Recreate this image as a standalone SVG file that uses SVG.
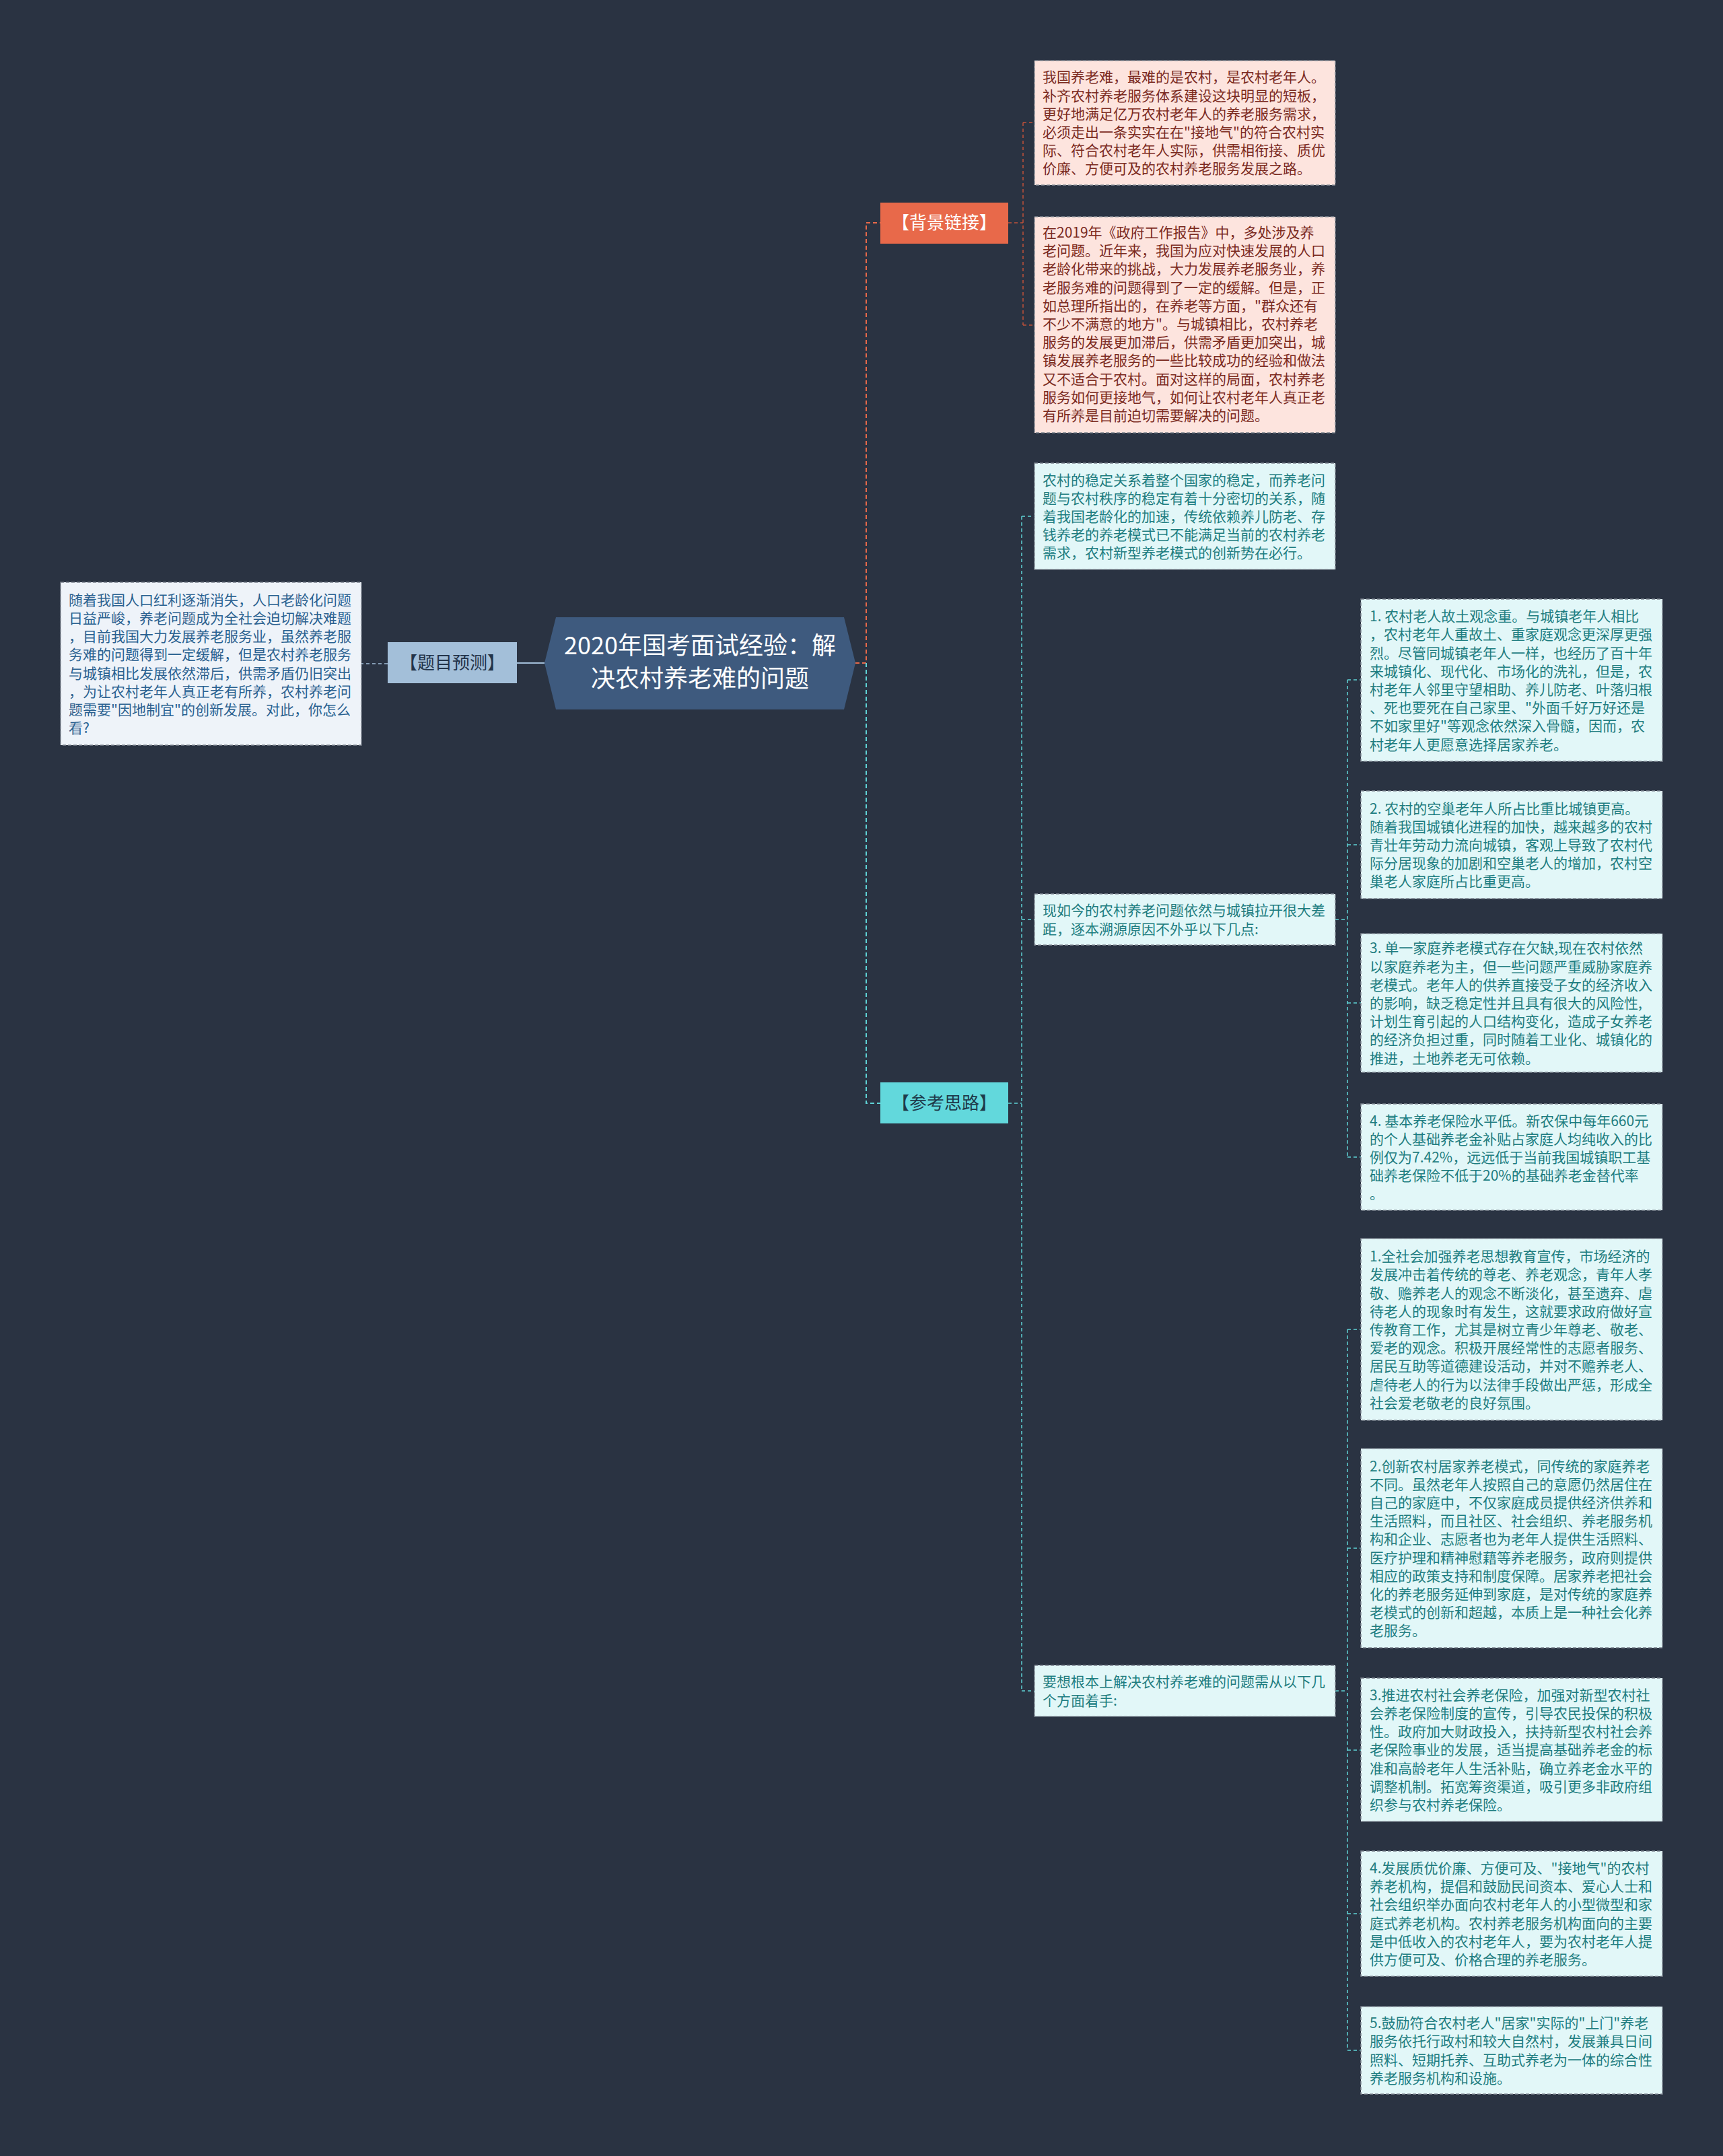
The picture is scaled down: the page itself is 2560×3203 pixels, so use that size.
<svg xmlns="http://www.w3.org/2000/svg" width="2560" height="3203" viewBox="0 0 2560 3203">
<style>
text{font-family:"Noto Sans CJK SC","Noto Sans",sans-serif;}
.box{stroke:#7d8590;stroke-width:1.5;stroke-dasharray:5 3;}
.pink{fill:#fde4de;}
.cyan{fill:#e2f7f8;}
.grey{fill:#eef3f9;}
.tp{font-size:21px;fill:#7b2a1e;}
.tc{font-size:21px;fill:#1e7d80;}
.tg{font-size:21px;fill:#2a6190;}
.lab{font-size:26px;text-anchor:middle;}
.c-or{fill:none;stroke:#e8694a;stroke-width:2;stroke-dasharray:6 4;}
.c-or2{fill:none;stroke:#c0513a;stroke-width:1.5;stroke-dasharray:5 4;}
.c-cy{fill:none;stroke:#5fd3d6;stroke-width:2;stroke-dasharray:6 4;}
.c-cy2{fill:none;stroke:#5fd3d6;stroke-width:1.5;stroke-dasharray:5 4;}
.c-bl{fill:none;stroke:#a3bfd9;stroke-width:2;}
.c-bl2{fill:none;stroke:#a3bfd9;stroke-width:1.5;stroke-dasharray:5 4;}
</style>
<rect x="0" y="0" width="2560" height="3203" fill="#2a3342"/>
<g id="connectors">
<path class="c-bl" d="M809 985 H768"/>
<path class="c-bl2" d="M576 986 H537"/>
<path class="c-or" d="M1271 985 H1287 V331 H1308"/>
<path class="c-cy" d="M1287 985 V1639 H1308"/>
<path class="c-or2" d="M1498 331 H1520 M1520 182 V483 M1520 182 H1537 M1520 483 H1537"/>
<path class="c-cy2" d="M1498 1639 H1518 M1518 767 V2512 M1518 767 H1537 M1518 1366 H1537 M1518 2512 H1537"/>
<path class="c-cy2" d="M1984 1366 H2002 M2002 1010 V1719 M2002 1010 H2022 M2002 1255 H2022 M2002 1490 H2022 M2002 1719 H2022"/>
<path class="c-cy2" d="M1984 2512 H2002 M2002 1975 V3046 M2002 1975 H2022 M2002 2300 H2022 M2002 2600 H2022 M2002 2843 H2022 M2002 3046 H2022"/>
</g>
<g id="center">
<polygon points="826,917 1254,917 1271,985 1254,1054 826,1054 809,985" fill="#3e5a7e"/>
<text x="1040" y="972" font-size="36" fill="#ffffff" text-anchor="middle">2020年国考面试经验：解</text>
<text x="1040" y="1021" font-size="36" fill="#ffffff" text-anchor="middle">决农村养老难的问题</text>
</g>
<g id="timu">
<rect x="576" y="954" width="192" height="61" fill="#a3bfd9"/>
<text class="lab" x="672" y="994" fill="#23344a">【题目预测】</text>
</g>
<g id="timu-text">
<rect class="box grey" x="90" y="865" width="447" height="242"/>
<text class="tg">
<tspan x="102" y="898.7">随着我国人口红利逐渐消失，人口老龄化问题</tspan>
<tspan x="102" y="925.9">日益严峻，养老问题成为全社会迫切解决难题</tspan>
<tspan x="102" y="953.1">，目前我国大力发展养老服务业，虽然养老服</tspan>
<tspan x="102" y="980.3">务难的问题得到一定缓解，但是农村养老服务</tspan>
<tspan x="102" y="1007.5">与城镇相比发展依然滞后，供需矛盾仍旧突出</tspan>
<tspan x="102" y="1034.7">，为让农村老年人真正老有所养，农村养老问</tspan>
<tspan x="102" y="1061.9">题需要"因地制宜"的创新发展。对此，你怎么</tspan>
<tspan x="102" y="1089.1">看?</tspan>
</text>
</g>
<g id="beijing">
<rect x="1308" y="301" width="190" height="61" fill="#e8694a"/>
<text class="lab" x="1403" y="340" fill="#ffffff">【背景链接】</text>
</g>
<g id="bj1">
<rect class="box pink" x="1537" y="90" width="447" height="185"/>
<text class="tp">
<tspan x="1549" y="122.4">我国养老难，最难的是农村，是农村老年人。</tspan>
<tspan x="1549" y="149.6">补齐农村养老服务体系建设这块明显的短板，</tspan>
<tspan x="1549" y="176.8">更好地满足亿万农村老年人的养老服务需求，</tspan>
<tspan x="1549" y="204">必须走出一条实实在在"接地气"的符合农村实</tspan>
<tspan x="1549" y="231.2">际、符合农村老年人实际，供需相衔接、质优</tspan>
<tspan x="1549" y="258.4">价廉、方便可及的农村养老服务发展之路。</tspan>
</text>
</g>
<g id="bj2">
<rect class="box pink" x="1537" y="322" width="447" height="321"/>
<text class="tp">
<tspan x="1549" y="353">在2019年《政府工作报告》中，多处涉及养</tspan>
<tspan x="1549" y="380.2">老问题。近年来，我国为应对快速发展的人口</tspan>
<tspan x="1549" y="407.4">老龄化带来的挑战，大力发展养老服务业，养</tspan>
<tspan x="1549" y="434.6">老服务难的问题得到了一定的缓解。但是，正</tspan>
<tspan x="1549" y="461.8">如总理所指出的，在养老等方面，"群众还有</tspan>
<tspan x="1549" y="489">不少不满意的地方"。与城镇相比，农村养老</tspan>
<tspan x="1549" y="516.2">服务的发展更加滞后，供需矛盾更加突出，城</tspan>
<tspan x="1549" y="543.4">镇发展养老服务的一些比较成功的经验和做法</tspan>
<tspan x="1549" y="570.6">又不适合于农村。面对这样的局面，农村养老</tspan>
<tspan x="1549" y="597.8">服务如何更接地气，如何让农村老年人真正老</tspan>
<tspan x="1549" y="625">有所养是目前迫切需要解决的问题。</tspan>
</text>
</g>
<g id="cankao">
<rect x="1308" y="1608" width="190" height="61" fill="#62d8dc"/>
<text class="lab" x="1403" y="1648" fill="#1e3a4a">【参考思路】</text>
</g>
<g id="ck1">
<rect class="box cyan" x="1537" y="688" width="447" height="158"/>
<text class="tc">
<tspan x="1549" y="720.5">农村的稳定关系着整个国家的稳定，而养老问</tspan>
<tspan x="1549" y="747.7">题与农村秩序的稳定有着十分密切的关系，随</tspan>
<tspan x="1549" y="774.9">着我国老龄化的加速，传统依赖养儿防老、存</tspan>
<tspan x="1549" y="802.1">钱养老的养老模式已不能满足当前的农村养老</tspan>
<tspan x="1549" y="829.3">需求，农村新型养老模式的创新势在必行。</tspan>
</text>
</g>
<g id="ck2">
<rect class="box cyan" x="1537" y="1328" width="447" height="76"/>
<text class="tc">
<tspan x="1549" y="1360.3">现如今的农村养老问题依然与城镇拉开很大差</tspan>
<tspan x="1549" y="1387.5">距，逐本溯源原因不外乎以下几点:</tspan>
</text>
</g>
<g id="ck3">
<rect class="box cyan" x="1537" y="2474" width="447" height="76"/>
<text class="tc">
<tspan x="1549" y="2506.3">要想根本上解决农村养老难的问题需从以下几</tspan>
<tspan x="1549" y="2533.5">个方面着手:</tspan>
</text>
</g>
<g id="r1">
<rect class="box cyan" x="2022" y="890" width="448" height="241"/>
<text class="tc">
<tspan x="2035" y="923.2">1. 农村老人故土观念重。与城镇老年人相比</tspan>
<tspan x="2035" y="950.4">，农村老年人重故土、重家庭观念更深厚更强</tspan>
<tspan x="2035" y="977.6">烈。尽管同城镇老年人一样，也经历了百十年</tspan>
<tspan x="2035" y="1004.8">来城镇化、现代化、市场化的洗礼，但是，农</tspan>
<tspan x="2035" y="1032">村老年人邻里守望相助、养儿防老、叶落归根</tspan>
<tspan x="2035" y="1059.2">、死也要死在自己家里、"外面千好万好还是</tspan>
<tspan x="2035" y="1086.4">不如家里好"等观念依然深入骨髓，因而，农</tspan>
<tspan x="2035" y="1113.6">村老年人更愿意选择居家养老。</tspan>
</text>
</g>
<g id="r2">
<rect class="box cyan" x="2022" y="1175" width="448" height="160"/>
<text class="tc">
<tspan x="2035" y="1208.5">2. 农村的空巢老年人所占比重比城镇更高。</tspan>
<tspan x="2035" y="1235.7">随着我国城镇化进程的加快，越来越多的农村</tspan>
<tspan x="2035" y="1262.9">青壮年劳动力流向城镇，客观上导致了农村代</tspan>
<tspan x="2035" y="1290.1">际分居现象的加剧和空巢老人的增加，农村空</tspan>
<tspan x="2035" y="1317.3">巢老人家庭所占比重更高。</tspan>
</text>
</g>
<g id="r3">
<rect class="box cyan" x="2022" y="1387" width="448" height="206"/>
<text class="tc">
<tspan x="2035" y="1416.3">3. 单一家庭养老模式存在欠缺,现在农村依然</tspan>
<tspan x="2035" y="1443.5">以家庭养老为主，但一些问题严重威胁家庭养</tspan>
<tspan x="2035" y="1470.7">老模式。老年人的供养直接受子女的经济收入</tspan>
<tspan x="2035" y="1497.9">的影响，缺乏稳定性并且具有很大的风险性,</tspan>
<tspan x="2035" y="1525.1">计划生育引起的人口结构变化，造成子女养老</tspan>
<tspan x="2035" y="1552.3">的经济负担过重，同时随着工业化、城镇化的</tspan>
<tspan x="2035" y="1579.5">推进，土地养老无可依赖。</tspan>
</text>
</g>
<g id="r4">
<rect class="box cyan" x="2022" y="1640" width="448" height="158"/>
<text class="tc">
<tspan x="2035" y="1672.5">4. 基本养老保险水平低。新农保中每年660元</tspan>
<tspan x="2035" y="1699.7">的个人基础养老金补贴占家庭人均纯收入的比</tspan>
<tspan x="2035" y="1726.9">例仅为7.42%，远远低于当前我国城镇职工基</tspan>
<tspan x="2035" y="1754.1">础养老保险不低于20%的基础养老金替代率</tspan>
<tspan x="2035" y="1781.3">。</tspan>
</text>
</g>
<g id="s1">
<rect class="box cyan" x="2022" y="1840" width="448" height="270"/>
<text class="tc">
<tspan x="2035" y="1874.1">1.全社会加强养老思想教育宣传，市场经济的</tspan>
<tspan x="2035" y="1901.3">发展冲击着传统的尊老、养老观念，青年人孝</tspan>
<tspan x="2035" y="1928.5">敬、赡养老人的观念不断淡化，甚至遗弃、虐</tspan>
<tspan x="2035" y="1955.7">待老人的现象时有发生，这就要求政府做好宣</tspan>
<tspan x="2035" y="1982.9">传教育工作，尤其是树立青少年尊老、敬老、</tspan>
<tspan x="2035" y="2010.1">爱老的观念。积极开展经常性的志愿者服务、</tspan>
<tspan x="2035" y="2037.3">居民互助等道德建设活动，并对不赡养老人、</tspan>
<tspan x="2035" y="2064.5">虐待老人的行为以法律手段做出严惩，形成全</tspan>
<tspan x="2035" y="2091.7">社会爱老敬老的良好氛围。</tspan>
</text>
</g>
<g id="s2">
<rect class="box cyan" x="2022" y="2152" width="448" height="296"/>
<text class="tc">
<tspan x="2035" y="2185.5">2.创新农村居家养老模式，同传统的家庭养老</tspan>
<tspan x="2035" y="2212.7">不同。虽然老年人按照自己的意愿仍然居住在</tspan>
<tspan x="2035" y="2239.9">自己的家庭中，不仅家庭成员提供经济供养和</tspan>
<tspan x="2035" y="2267.1">生活照料，而且社区、社会组织、养老服务机</tspan>
<tspan x="2035" y="2294.3">构和企业、志愿者也为老年人提供生活照料、</tspan>
<tspan x="2035" y="2321.5">医疗护理和精神慰藉等养老服务，政府则提供</tspan>
<tspan x="2035" y="2348.7">相应的政策支持和制度保障。居家养老把社会</tspan>
<tspan x="2035" y="2375.9">化的养老服务延伸到家庭，是对传统的家庭养</tspan>
<tspan x="2035" y="2403.1">老模式的创新和超越，本质上是一种社会化养</tspan>
<tspan x="2035" y="2430.3">老服务。</tspan>
</text>
</g>
<g id="s3">
<rect class="box cyan" x="2022" y="2493" width="448" height="213"/>
<text class="tc">
<tspan x="2035" y="2525.8">3.推进农村社会养老保险，加强对新型农村社</tspan>
<tspan x="2035" y="2553">会养老保险制度的宣传，引导农民投保的积极</tspan>
<tspan x="2035" y="2580.2">性。政府加大财政投入，扶持新型农村社会养</tspan>
<tspan x="2035" y="2607.4">老保险事业的发展，适当提高基础养老金的标</tspan>
<tspan x="2035" y="2634.6">准和高龄老年人生活补贴，确立养老金水平的</tspan>
<tspan x="2035" y="2661.8">调整机制。拓宽筹资渠道，吸引更多非政府组</tspan>
<tspan x="2035" y="2689">织参与农村养老保险。</tspan>
</text>
</g>
<g id="s4">
<rect class="box cyan" x="2022" y="2750" width="448" height="186"/>
<text class="tc">
<tspan x="2035" y="2782.9">4.发展质优价廉、方便可及、"接地气"的农村</tspan>
<tspan x="2035" y="2810.1">养老机构，提倡和鼓励民间资本、爱心人士和</tspan>
<tspan x="2035" y="2837.3">社会组织举办面向农村老年人的小型微型和家</tspan>
<tspan x="2035" y="2864.5">庭式养老机构。农村养老服务机构面向的主要</tspan>
<tspan x="2035" y="2891.7">是中低收入的农村老年人，要为农村老年人提</tspan>
<tspan x="2035" y="2918.9">供方便可及、价格合理的养老服务。</tspan>
</text>
</g>
<g id="s5">
<rect class="box cyan" x="2022" y="2981" width="448" height="130"/>
<text class="tc">
<tspan x="2035" y="3013.1">5.鼓励符合农村老人"居家"实际的"上门"养老</tspan>
<tspan x="2035" y="3040.3">服务依托行政村和较大自然村，发展兼具日间</tspan>
<tspan x="2035" y="3067.5">照料、短期托养、互助式养老为一体的综合性</tspan>
<tspan x="2035" y="3094.7">养老服务机构和设施。</tspan>
</text>
</g>
</svg>
